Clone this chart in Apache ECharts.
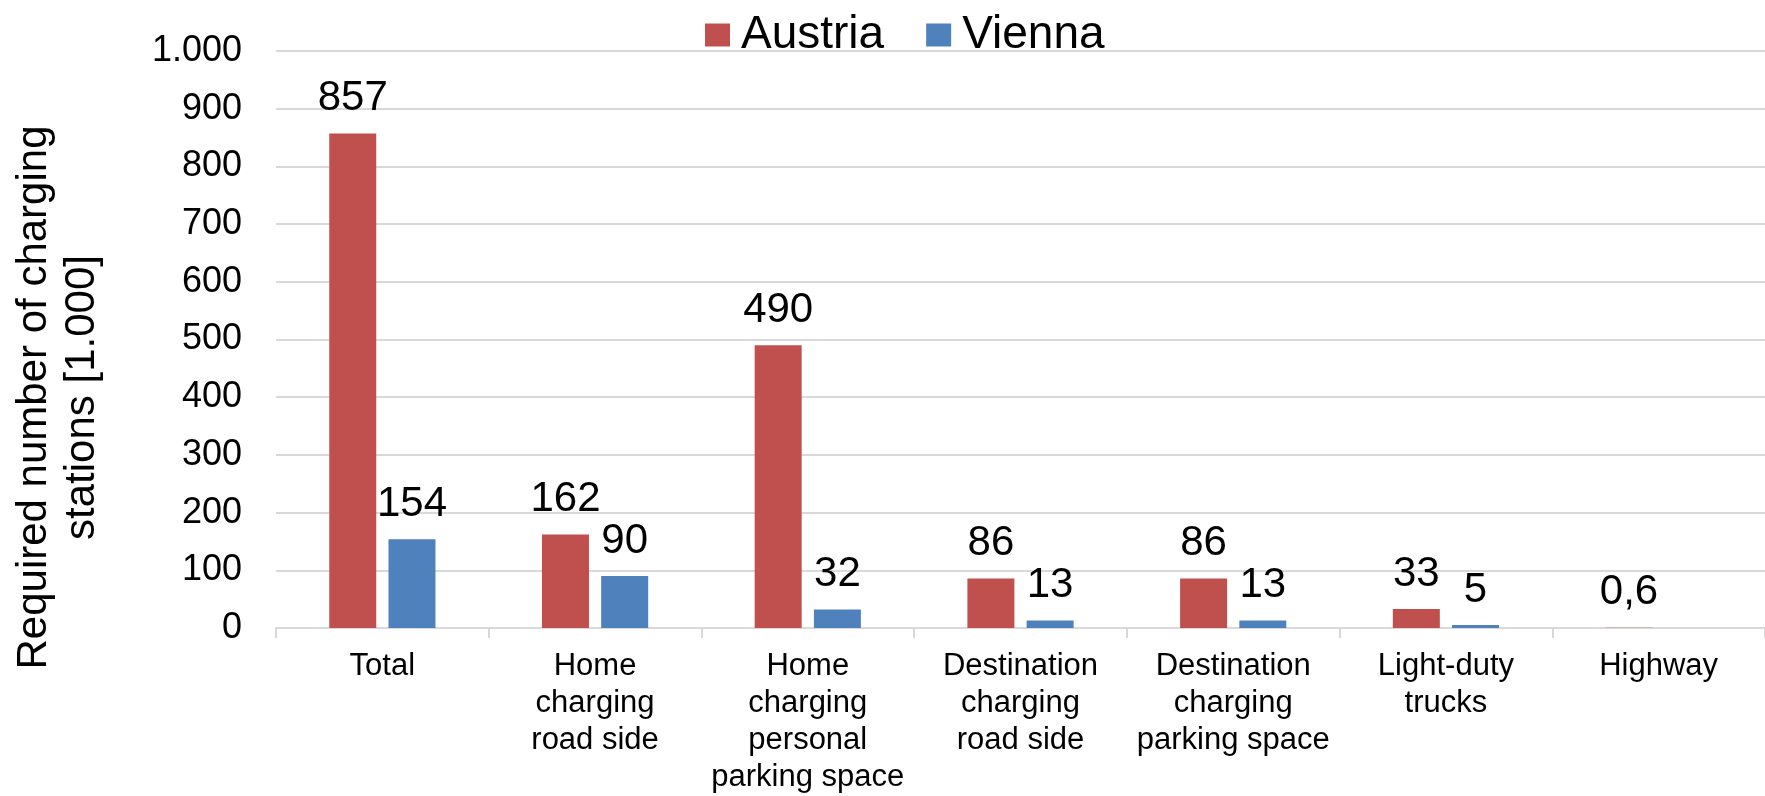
<!DOCTYPE html>
<html>
<head>
<meta charset="utf-8">
<script src="https://cdn.jsdelivr.net/npm/echarts@6/dist/echarts.min.js"></script>
<style>
  html, body { margin: 0; padding: 0; background: #fff; }
  #chart { width: 1765px; height: 796px; }
</style>
</head>
<body>
<div id="chart"></div>
<script>
// categories and values
var categories = ['Total', 'Home\ncharging\nroad side', 'Home\ncharging\npersonal\nparking space',
  'Destination\ncharging\nroad side', 'Destination\ncharging\nparking space', 'Light-duty\ntrucks', 'Highway']
var austria = [857, 162, 490, 86, 86, 33, 0.6]
var vienna = [154, 90, 32, 13, 13, 5, null]
var yTicks = [0, 100, 200, 300, 400, 500, 600, 700, 800, 900, 1000]

var font = 'Liberation Sans, Arial, sans-serif'

function fmtNum(v) {
  // german style: 1.000 and 0,6
  if (v >= 1000) return (v / 1000) + '.' + String(v % 1000).padStart(3, '0')
  return String(v).replace('.', ',')
}

var myChart = echarts.init(document.getElementById('chart'))
var option = {
  animation: false,
  textStyle: { fontFamily: font, color: '#000' },
  legend: {
    left: 700,
    top: 7,
    itemWidth: 25,
    itemHeight: 23,
    itemGap: 42,
    icon: 'rect',
    textStyle: { fontSize: 46, color: '#000', fontFamily: font, padding: [0, 0, 0, 6] },
    data: ['Austria', 'Vienna']
  },
  grid: {
    left: 276,
    right: 0,
    top: 51,
    bottom: 165,
    containLabel: false
  },
  xAxis: {
    type: 'category',
    data: categories,
    axisLine: { lineStyle: { color: '#d9d9d9', width: 2 } },
    axisTick: { show: true, length: 10, lineStyle: { color: '#d9d9d9', width: 2 } },
    axisLabel: {
      interval: 0,
      fontSize: 31,
      lineHeight: 37,
      margin: 20,
      color: '#000',
      fontFamily: font
    }
  },
  yAxis: {
    type: 'value',
    min: 0,
    max: 1000,
    interval: 100,
    name: 'Required number of charging\nstations [1.000]',
    nameLocation: 'middle',
    nameRotate: 90,
    nameGap: 170,
    nameTextStyle: { fontSize: 42, lineHeight: 48, color: '#000', fontFamily: font, padding: [0, 116, 0, 0] },
    axisLine: { show: false },
    axisTick: { show: false },
    splitLine: { lineStyle: { color: '#d9d9d9', width: 2 } },
    axisLabel: {
      fontSize: 36,
      margin: 34,
      color: '#000',
      fontFamily: font,
      formatter: function (v) { return yTicks.indexOf(v) >= 0 ? fmtNum(v) : '' }
    }
  },
  series: [
    {
      name: 'Austria',
      type: 'bar',
      data: austria,
      barWidth: 47,
      barGap: '26%',
      itemStyle: { color: '#C0504D' },
      label: {
        show: true,
        position: 'top',
        distance: 14,
        fontSize: 42,
        color: '#000',
        fontFamily: font,
        formatter: function (p) { return fmtNum(p.value) }
      }
    },
    {
      name: 'Vienna',
      type: 'bar',
      data: vienna,
      barWidth: 47,
      itemStyle: { color: '#4F81BD' },
      label: {
        show: true,
        position: 'top',
        distance: 14,
        fontSize: 42,
        color: '#000',
        fontFamily: font,
        formatter: function (p) { return fmtNum(p.value) }
      }
    }
  ]
}
myChart.setOption(option)
</script>
</body>
</html>
